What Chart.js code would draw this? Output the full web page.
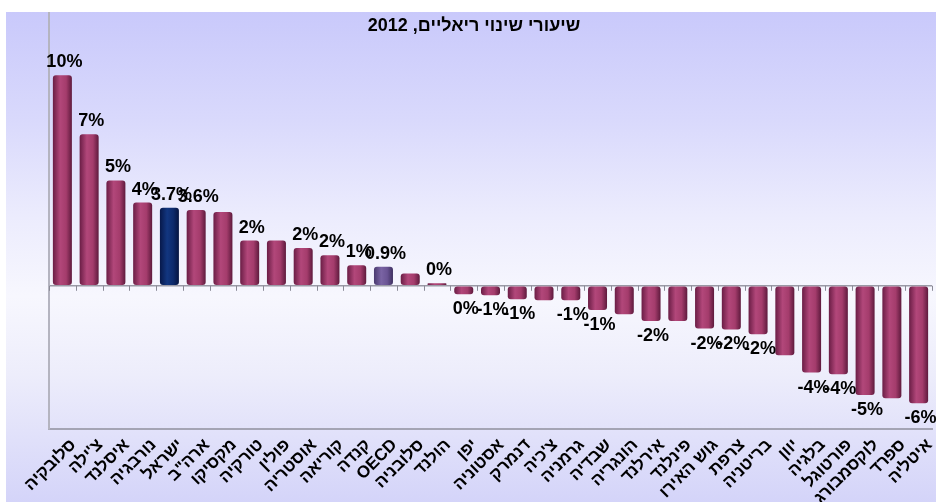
<!DOCTYPE html>
<html lang="he">
<head>
<meta charset="utf-8">
<script src="https://cdn.jsdelivr.net/npm/chart.js@4/dist/chart.umd.min.js"></script>
<style>
  html, body { margin: 0; padding: 0; background: #fff; }
  #wrap {
    position: absolute; left: 6px; top: 12px; width: 930px; height: 490px;
    background: linear-gradient(to bottom, #c9c9fb 0%, #d9d9fc 22%, #ececfd 42%, #f7f7fe 58%, #ededfb 74%, #d4d4f9 100%);
  }
</style>
</head>
<body>
<div id="wrap"><canvas id="chart" width="930" height="490"></canvas></div>
<script>
// Data
const title = 'שיעורי שינוי ריאליים, 2012';
const countries = ['סלובקיה', 'צ\'ילה', 'איסלנד', 'נורבגיה', 'ישראל', 'ארה"ב', 'מקסיקו', 'טורקיה', 'פולין',
  'אוסטריה', 'קוריאה', 'קנדה', 'OECD', 'סלובניה', 'הולנד', 'יפן', 'אסטוניה', 'דנמרק', 'צ\'כיה', 'גרמניה',
  'שבדיה', 'הונגריה', 'אירלנד', 'פינלנד', 'גוש האירו', 'צרפת', 'בריטניה', 'יוון', 'בלגיה', 'פורטוגל',
  'לוקסמבורג', 'ספרד', 'איטליה'];
const changes = [10.0, 7.2, 5.0, 3.95, 3.7, 3.6, 3.5, 2.15, 2.15,
  1.8, 1.45, 0.97, 0.9, 0.58, 0.12, -0.4, -0.45, -0.64, -0.69, -0.69,
  -1.15, -1.35, -1.67, -1.67, -2.03, -2.07, -2.3, -3.3, -4.12, -4.2,
  -5.19, -5.34, -5.58];
const valueLabels = ['10%', '7%', '5%', '4%', '3.7%', '3.6%', '', '2%', '',
  '2%', '2%', '1%', '0.9%', '', '0%', '0%', '-1%', '-1%', '', '-1%',
  '-1%', '', '-2%', '', '-2%', '-2%', '-2%', '', '-4%', '-4%',
  '-5%', '', '-6%'];

const BAR_PCT = 0.71;
const FONT = '"Liberation Sans", Arial, sans-serif';

// cylinder-ish shading
const palette = {
  normal: ['#6a1d45', '#b2477a', '#a43c6c', '#5e1a3d'],
  'ישראל': ['#07184a', '#123680', '#0d2a6c', '#051440'],
  'OECD': ['#4a3a70', '#7a64a4', '#6a5494', '#3e3060']
};

function barFill(ctx) {
  const name = countries[ctx.dataIndex];
  const c = palette[name] || palette.normal;
  const chart = ctx.chart;
  if (ctx.type !== 'data' || !chart.chartArea) return c[2];
  const xs = chart.scales.x;
  const x = xs.getPixelForValue(ctx.dataIndex);
  const half = xs.width / countries.length * BAR_PCT / 2;
  const g = chart.ctx.createLinearGradient(x - half, 0, x + half, 0);
  g.addColorStop(0, c[0]);
  g.addColorStop(0.38, c[1]);
  g.addColorStop(0.7, c[2]);
  g.addColorStop(1, c[3]);
  return g;
}

const extras = {
  id: 'extras',
  afterDatasetsDraw(chart) {
    const ctx = chart.ctx;
    const xs = chart.scales.x, ys = chart.scales.y;
    const zero = ys.getPixelForValue(0);
    // small ticks on the zero line between categories
    ctx.save();
    ctx.strokeStyle = '#8a8a96';
    ctx.lineWidth = 1;
    const step = xs.width / countries.length;
    for (let i = 0; i <= countries.length; i++) {
      const x = Math.round(xs.left + i * step) + 0.5;
      ctx.beginPath();
      ctx.moveTo(x, zero);
      ctx.lineTo(x, zero + 5);
      ctx.stroke();
    }
    // value labels
    const meta = chart.getDatasetMeta(0);
    ctx.fillStyle = '#000';
    ctx.font = 'bold 18px ' + FONT;
    ctx.textAlign = 'center';
    meta.data.forEach((bar, i) => {
      const txt = valueLabels[i];
      if (!txt) return;
      if (changes[i] >= 0) {
        ctx.textBaseline = 'alphabetic';
        ctx.fillText(txt, bar.x + 2, bar.y - 8);
      } else {
        ctx.textBaseline = 'top';
        ctx.fillText(txt, bar.x + 2, bar.y + 6);
      }
    });
    // title
    ctx.font = 'bold 18px ' + FONT;
    ctx.textBaseline = 'alphabetic';
    ctx.fillText(title, chart.width / 2 + 3, 19);
    ctx.restore();
  }
};

new Chart(document.getElementById('chart'), {
  type: 'bar',
  data: {
    labels: countries,
    datasets: [{
      data: changes,
      backgroundColor: barFill,
      borderWidth: 0,
      borderRadius: 3,
      borderSkipped: false,
      barPercentage: BAR_PCT,
      categoryPercentage: 1
    }]
  },
  options: {
    responsive: false,
    animation: false,
    layout: { padding: { left: 0, right: 4, top: 0, bottom: 0 } },
    plugins: { legend: { display: false }, tooltip: { enabled: false } },
    scales: {
      x: {
        grid: { display: false },
        border: { display: true, color: '#a4a4b4', width: 2 },
        ticks: {
          autoSkip: false,
          minRotation: 45,
          maxRotation: 45,
          labelOffset: 11,
          padding: -2,
          color: '#000',
          font: { family: FONT, size: 17, weight: 'bold' }
        },
        afterFit(s) { s.height = 73; }
      },
      y: {
        min: -6.8,
        max: 13,
        ticks: { display: false },
        grid: {
          drawTicks: false,
          color: (c) => c.tick && c.tick.value === 0 ? '#9a9aa6' : 'rgba(0,0,0,0)',
          lineWidth: 1.5
        },
        border: { display: true, color: '#b4b4c0', width: 2 },
        afterFit(s) { s.width = 43; },
        afterBuildTicks(s) { s.ticks = [{ value: 0 }]; }
      }
    }
  },
  plugins: [extras]
});
</script>
</body>
</html>
